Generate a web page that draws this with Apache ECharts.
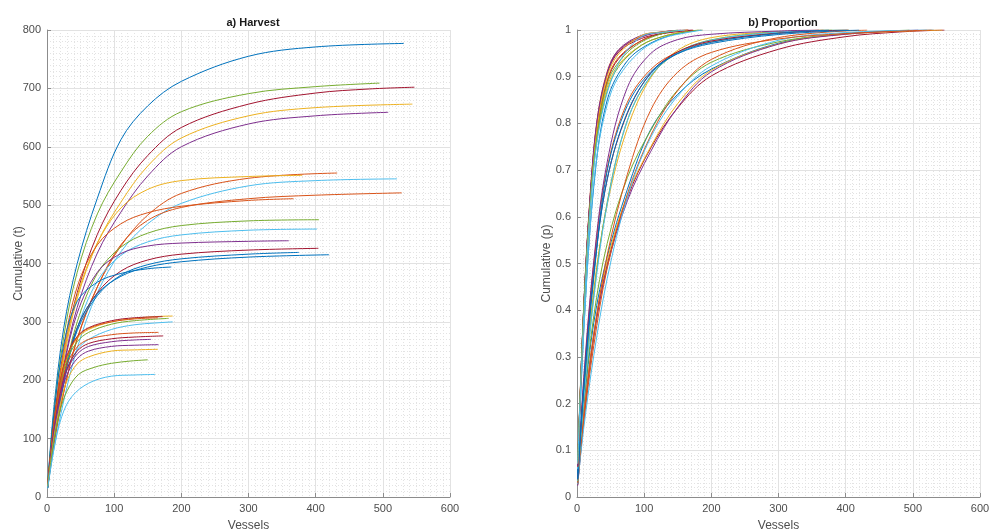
<!DOCTYPE html>
<html>
<head>
<meta charset="utf-8">
<script src="https://cdn.jsdelivr.net/npm/echarts@6/dist/echarts.min.js"></script>
<style>
html,body{margin:0;padding:0;background:#fff;}
#chart{width:989px;height:532px;}
</style>
</head>
<body>
<div id="chart"></div>
<script>
// ---- Data ----
const panelTitles = ['a) Harvest', 'b) Proportion'];
const xLabel = 'Vessels';
const yLabels = ['Cumulative (t)', 'Cumulative (p)'];
const xRange = [0, 600, 100];
const harvestRange = [0, 800, 100];
const propRange = [0, 1, 0.1];

// MATLAB colour order
const cBlue = '#0072BD', cOrange = '#D95319', cYellow = '#EDB120', cPurple = '#7E2F8E',
      cGreen = '#77AC30', cLBlue = '#4DBEEE', cRed = '#A2142F';

// Cumulative harvest curves: [vessels, tonnes]
const u1 = [[1,22],[10,150],[25,290],[45,400],[75,512],[110,612],[150,670],[200,712],[300,755],[400,771],[531,777]];
const u2 = [[1,20],[10,140],[25,275],[45,385],[75,485],[110,557],[150,618],[200,660],[300,691],[400,703],[495,709]];
const u3 = [[1,18],[10,120],[25,245],[45,350],[75,450],[110,525],[150,585],[200,633],[300,673],[400,692],[480,699],[547,702]];
const u4 = [[1,18],[10,115],[25,235],[45,340],[75,435],[110,505],[150,567],[200,615],[300,653],[400,667],[544,673]];
const u5 = [[1,16],[10,105],[25,225],[45,325],[75,418],[110,488],[150,550],[200,600],[300,639],[400,653],[508,659]];
const m1 = [[1,16],[10,88],[25,180],[45,272],[75,360],[110,430],[150,483],[200,520],[300,546],[432,555]];
const m2 = [[1,18],[10,120],[25,245],[45,345],[75,435],[110,495],[150,527],[200,542],[300,549],[380,551]];
const m3 = [[1,15],[10,80],[25,165],[45,255],[75,350],[110,420],[150,468],[200,503],[300,533],[400,542],[521,545]];
const m4 = [[1,16],[10,90],[25,180],[45,270],[75,360],[110,432],[150,474],[200,496],[300,511],[400,517],[528,521]];
const m5 = [[1,18],[10,125],[25,255],[45,360],[75,432],[110,468],[150,487],[200,498],[300,508],[367,511]];
const m6 = [[1,16],[10,100],[25,205],[45,300],[75,383],[110,428],[150,452],[200,465],[300,473],[405,475]];
const m7 = [[1,16],[10,95],[25,195],[45,288],[75,370],[110,414],[150,437],[200,449],[300,457],[402,459]];
const m8 = [[1,18],[10,112],[25,222],[45,315],[75,385],[110,417],[150,430],[200,435],[300,438],[360,439]];
const m9 = [[1,16],[10,100],[25,205],[45,290],[75,350],[110,387],[150,406],[200,416],[300,423],[404,426]];
const m10 = [[1,16],[10,98],[25,200],[45,285],[75,345],[110,380],[150,398],[200,408],[300,416],[375,419]];
const m11 = [[1,16],[10,95],[25,195],[45,290],[75,348],[110,378],[150,394],[200,403],[300,411],[420,415]];
const m12 = [[1,20],[10,140],[25,262],[45,335],[75,368],[110,383],[150,391],[185,394]];
const l1 = [[1,20],[10,120],[20,195],[30,240],[45,272],[62,287],[96,300],[130,306],[160,309],[187,310]];
const l2 = [[1,20],[10,125],[20,200],[30,243],[45,275],[62,290],[96,302],[130,307],[172,309]];
const l3 = [[1,20],[10,118],[20,190],[30,235],[45,266],[62,282],[96,296],[130,302],[181,306]];
const l4 = [[1,18],[10,105],[20,175],[30,220],[45,252],[62,270],[96,287],[130,295],[160,298],[187,300]];
const l5 = [[1,20],[10,122],[20,198],[30,242],[45,274],[62,289],[96,300],[130,305],[165,307]];
const l6 = [[1,20],[10,115],[20,185],[30,228],[45,257],[62,270],[96,278],[130,281],[166,282]];
const l7 = [[1,18],[10,110],[20,178],[30,220],[45,250],[62,263],[96,271],[130,274],[173,276]];
const l8 = [[1,18],[10,110],[20,175],[30,218],[45,245],[62,258],[96,266],[130,269],[155,270]];
const l9 = [[1,18],[10,105],[20,170],[30,210],[45,237],[62,250],[96,258],[130,260],[166,261]];
const l10 = [[1,18],[10,100],[20,160],[30,200],[45,228],[62,240],[96,250],[130,252],[165,253]];
const l11 = [[1,18],[10,95],[20,150],[30,182],[47,210],[70,222],[96,229],[125,233],[150,235]];
const l12 = [[1,15],[10,80],[22,138],[37,172],[62,195],[96,207],[130,209],[161,210]];

const harvestCurves = [u1,u2,u3,u4,u5,m1,m2,m3,m4,m5,m6,m7,m8,m9,m10,m11,m12,l1,l2,l3,l4,l5,l6,l7,l8,l9,l10,l11,l12];
const curveColors = [cBlue,cGreen,cRed,cYellow,cPurple,cOrange,cYellow,cLBlue,cOrange,cOrange,cGreen,cLBlue,cPurple,cRed,cBlue,cBlue,cBlue,cYellow,cRed,cGreen,cLBlue,cOrange,cOrange,cRed,cPurple,cPurple,cYellow,cGreen,cLBlue];

// Proportion panel: each cumulative curve relative to its own final total
const propCurves = harvestCurves.map(c => { const tot = c[c.length-1][1]; return c.map(p => [p[0], p[1] / tot]); });

// ---- Chart ----
const FONT = 'Liberation Sans, Arial, Helvetica, sans-serif';
const gridL = {left: 47, top: 30, width: 403, height: 467, outerBoundsMode: 'none', containLabel: false};
const gridR = {left: 577, top: 30, width: 403, height: 467, outerBoundsMode: 'none', containLabel: false};

function axisCommon(){
  return {
    nameTextStyle: {fontFamily: FONT, fontSize: 12, color: '#4d4d4d'},
    nameMoveOverlap: false,
    axisLine: {show: true, lineStyle: {color: '#8c8c8c', width: 1}},
    axisTick: {show: true, inside: true, length: 4, lineStyle: {color: '#8c8c8c'}},
    splitLine: {show: true, lineStyle: {color: '#e2e2e2', width: 1}},
    minorTick: {show: false, splitNumber: 10},
    minorSplitLine: {show: true, lineStyle: {color: '#e3e3e3', width: 1, type: [1, 2]}}
  };
}
function xAxis(gi){
  return Object.assign(axisCommon(), {
    type: 'value', gridIndex: gi, min: xRange[0], max: xRange[1], interval: xRange[2],
    name: xLabel, nameLocation: 'middle', nameGap: 23,
    axisLabel: {fontFamily: FONT, fontSize: 11, color: '#4d4d4d', margin: 6}
  });
}
function yAxis(gi, rng, name, gap){
  return Object.assign(axisCommon(), {
    type: 'value', gridIndex: gi, min: rng[0], max: rng[1], interval: rng[2],
    name: name, nameLocation: 'middle', nameGap: gap,
    axisLabel: {fontFamily: FONT, fontSize: 11, color: '#4d4d4d', margin: 6}
  });
}

const series = [];
harvestCurves.forEach((c, i) => {
  series.push({type: 'line', xAxisIndex: 0, yAxisIndex: 0, data: c, showSymbol: false, symbol: 'none',
    smooth: 0.35, lineStyle: {color: curveColors[i], width: 1}, z: 3});
});
propCurves.forEach((c, i) => {
  series.push({type: 'line', xAxisIndex: 1, yAxisIndex: 1, data: c, showSymbol: false, symbol: 'none',
    smooth: 0.35, lineStyle: {color: curveColors[i], width: 1}, z: 3});
});

const chart = echarts.init(document.getElementById('chart'), null, {renderer: 'canvas'});
chart.setOption({
  animation: false,
  backgroundColor: '#ffffff',
  title: [
    {text: panelTitles[0], left: 248, top: 12, textAlign: 'center',
     textStyle: {fontFamily: FONT, fontSize: 11, fontWeight: 'bold', color: '#1a1a1a'}},
    {text: panelTitles[1], left: 778, top: 12, textAlign: 'center',
     textStyle: {fontFamily: FONT, fontSize: 11, fontWeight: 'bold', color: '#1a1a1a'}}
  ],
  grid: [gridL, gridR],
  xAxis: [xAxis(0), xAxis(1)],
  yAxis: [yAxis(0, harvestRange, yLabels[0], 22), yAxis(1, propRange, yLabels[1], 24)],
  series: series
});
</script>
</body>
</html>
